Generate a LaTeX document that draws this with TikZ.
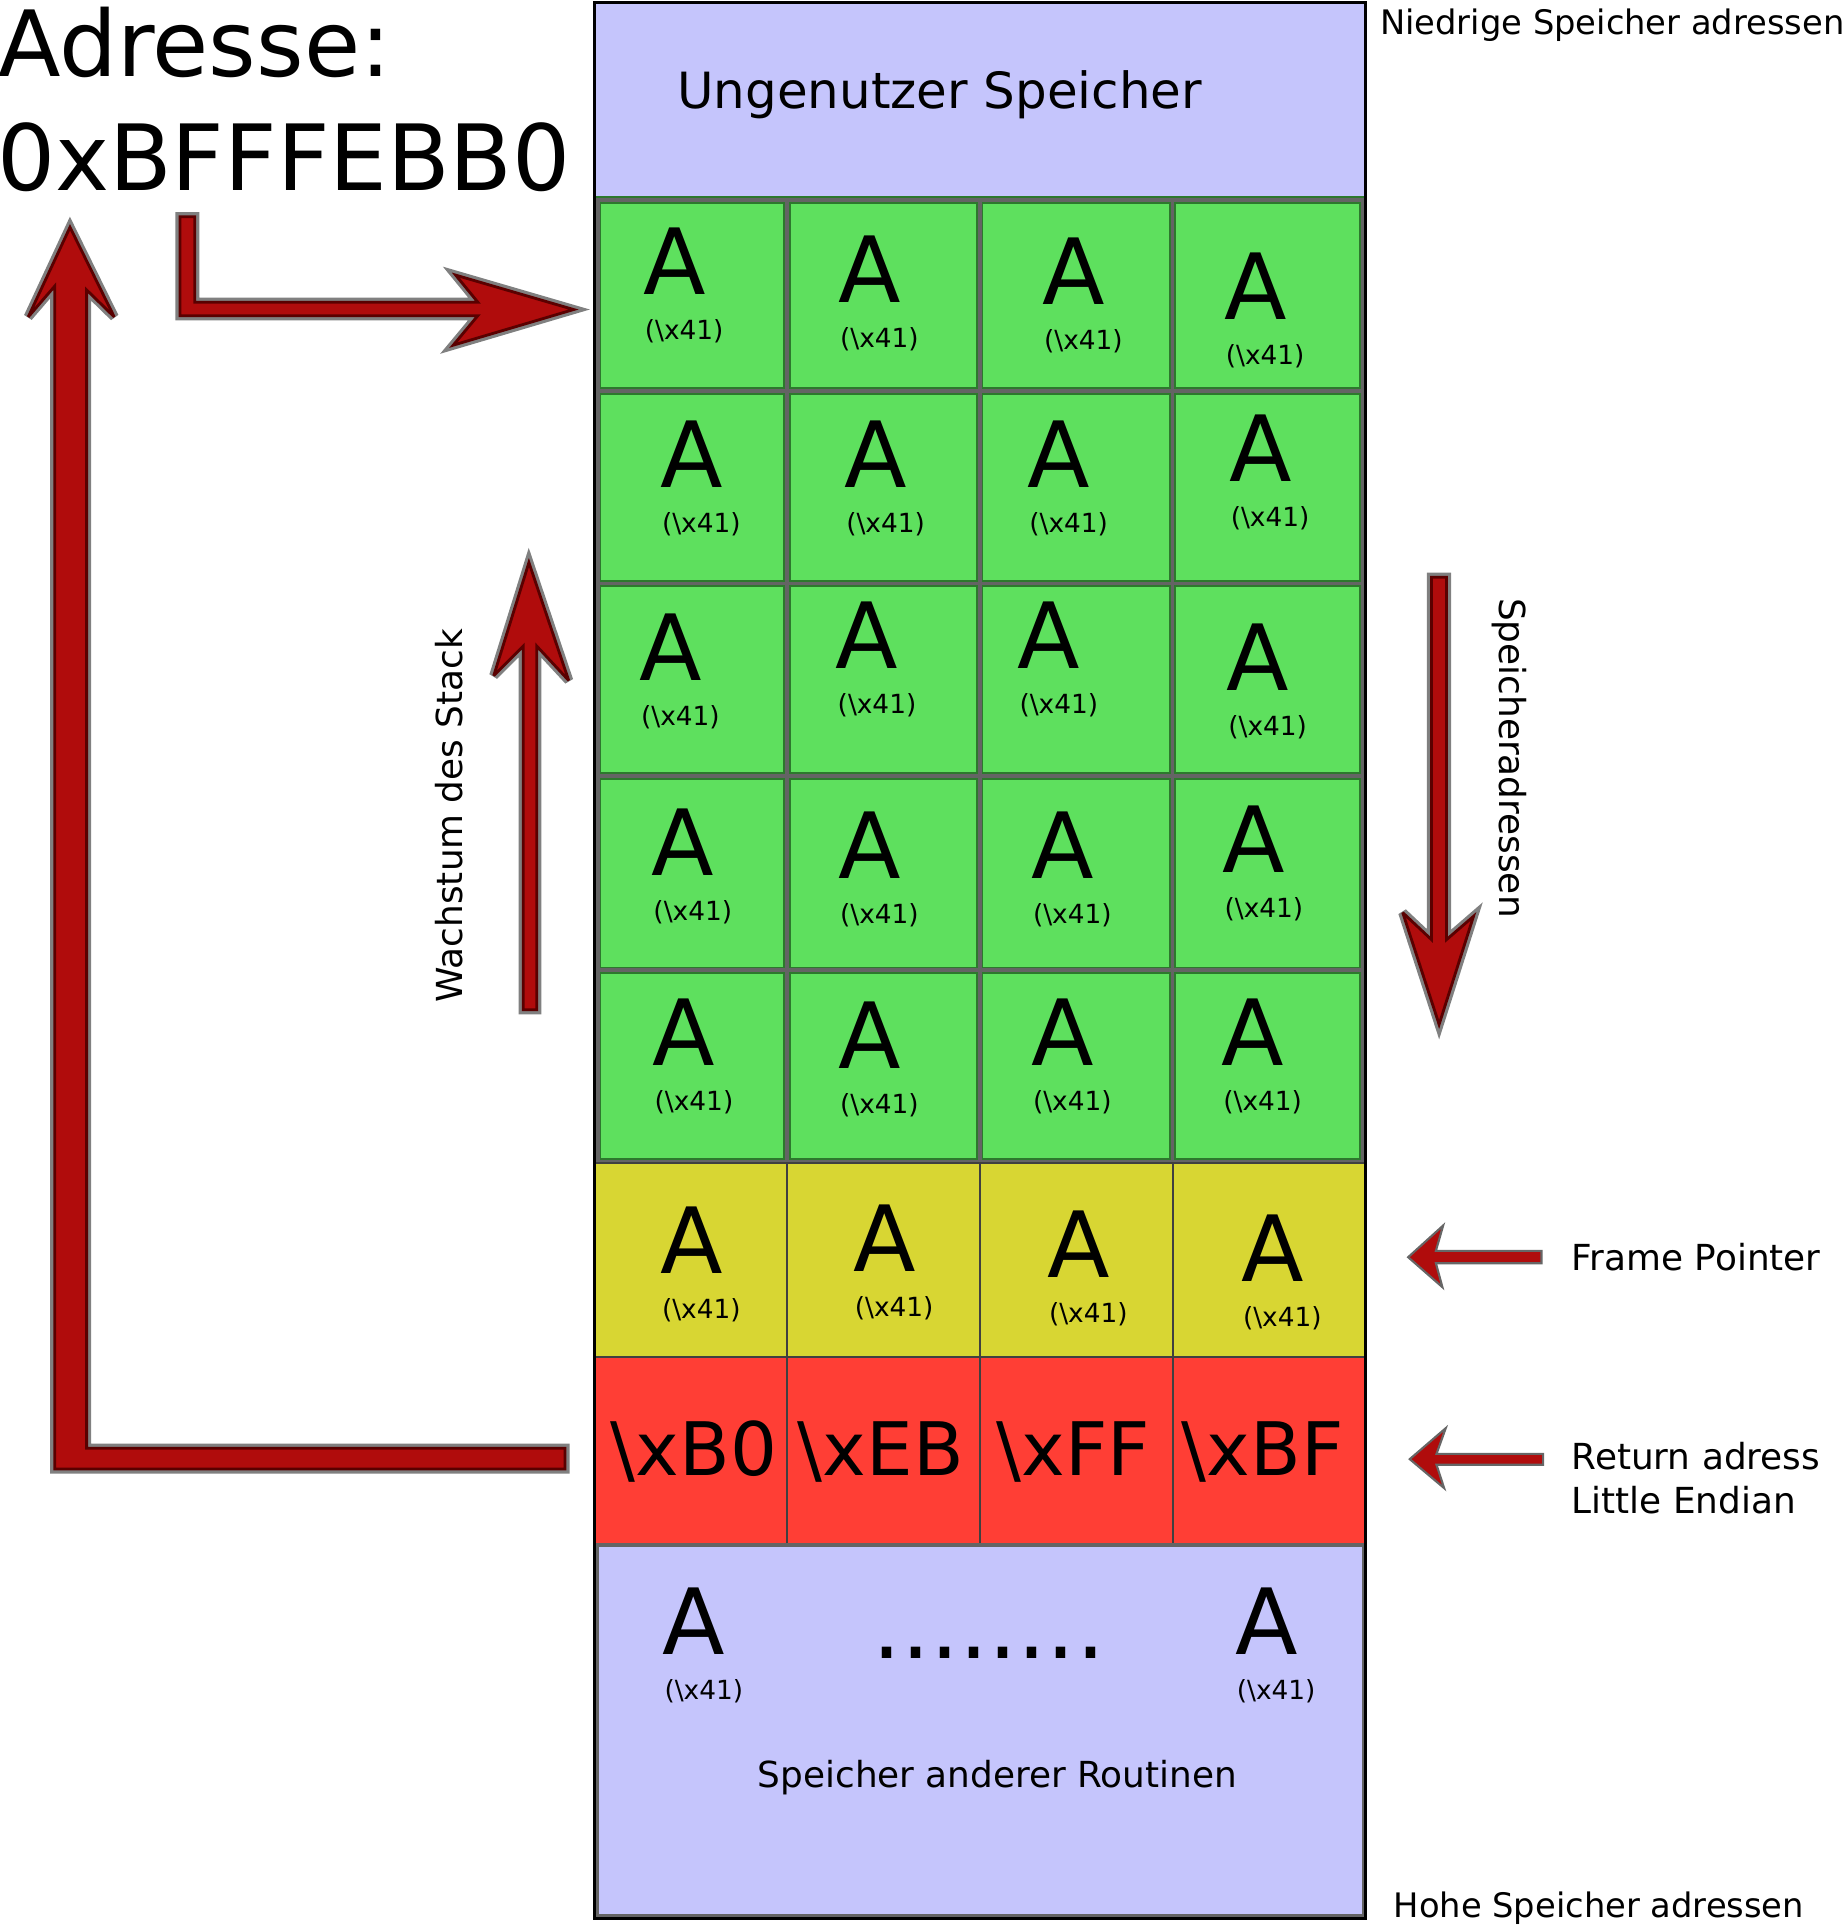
\documentclass[tikz,border=0pt]{standalone}
\usepackage{fontspec}
\setmainfont{DejaVu Sans}

\definecolor{freeblue}{RGB}{197,197,252}
\definecolor{bufgreen}{RGB}{94,224,94}
\definecolor{edgegreen}{RGB}{45,120,45}
\definecolor{ebpyellow}{RGB}{216,214,51}
\definecolor{retred}{RGB}{255,62,53}
\definecolor{arrowred}{RGB}{176,12,12}
\definecolor{arrowdark}{RGB}{90,0,0}
\definecolor{gridgray}{RGB}{100,100,100}

\tikzset{
  bigA/.style={inner sep=0, font=\fontsize{26}{31}\selectfont},
  hexlbl/.style={inner sep=0, font=\fontsize{7.5}{9}\selectfont},
  retbyte/.style={inner sep=0, font=\fontsize{21}{25}\selectfont},
  sidetext/.style={inner sep=0, font=\fontsize{10.2}{12.6}\selectfont},
  halo/.style={draw=gray, line width=2.6pt, miter limit=4},
  bigarrow/.style={fill=arrowred, draw=arrowdark, line width=0.8pt, miter limit=4},
  smallarrow/.style={fill=arrowred, draw=black!60, line width=0.6pt, miter limit=4},
  bytebox/.style={draw=black!75, line width=0.5pt},
}

\newcommand{\acell}[3]{%
  \node[bigA] (A#1) at (#2,#3) {A};
  \node[hexlbl] (X#1) at (#2+8,#3+57) {(\textbackslash x41)};}

\begin{document}
\begin{tikzpicture}[x=0.012283cm, y=-0.012283cm]
\useasboundingbox (0,0) rectangle (1501,1568);

% stack column
\fill[freeblue] (484,2) rectangle (1112,162);
\fill[bufgreen] (484,162) rectangle (1112,947);
\draw[edgegreen, line width=2.2pt] (486.5,163) rectangle (1109.5,946)
     (641,162) -- (641,947) (797.5,162) -- (797.5,947) (954.5,162) -- (954.5,947)
     (484,318.5) -- (1112,318.5) (484,475) -- (1112,475) (484,632) -- (1112,632) (484,790) -- (1112,790);
\draw[gridgray, line width=1.1pt] (486.5,163) rectangle (1109.5,946)
     (641,162) -- (641,947) (797.5,162) -- (797.5,947) (954.5,162) -- (954.5,947)
     (484,318.5) -- (1112,318.5) (484,475) -- (1112,475) (484,632) -- (1112,632) (484,790) -- (1112,790);

\draw[bytebox, fill=ebpyellow] (484,947) rectangle (641,1105);
\draw[bytebox, fill=ebpyellow] (641,947) rectangle (798,1105);
\draw[bytebox, fill=ebpyellow] (798,947) rectangle (955,1105);
\draw[bytebox, fill=ebpyellow] (955,947) rectangle (1112,1105);
\draw[bytebox, fill=retred] (484,1105) rectangle (641,1257);
\draw[bytebox, fill=retred] (641,1105) rectangle (798,1257);
\draw[bytebox, fill=retred] (798,1105) rectangle (955,1257);
\draw[bytebox, fill=retred] (955,1105) rectangle (1112,1257);

\draw[fill=freeblue, draw=gridgray, line width=1pt] (486,1258) rectangle (1110,1560);
\draw[black, line width=0.8pt] (484,2) rectangle (1112,1562);

\node[font=\fontsize{14.2}{17}\selectfont, anchor=base] (UNUSED) at (765,88) {Ungenutzer Speicher};

\acell{11}{549}{213} \acell{12}{708}{219} \acell{13}{874}{221} \acell{14}{1022}{233}
\acell{21}{563}{370} \acell{22}{713}{370} \acell{23}{862}{370} \acell{24}{1026}{365}
\acell{31}{546}{527} \acell{32}{706}{517} \acell{33}{854}{517} \acell{34}{1024}{535}
\acell{41}{556}{686} \acell{42}{708}{688} \acell{43}{865}{688} \acell{44}{1021}{683}
\acell{51}{557}{840} \acell{52}{708}{843} \acell{53}{865}{840} \acell{54}{1020}{840}
\acell{61}{563}{1010} \acell{62}{720}{1008} \acell{63}{878}{1013} \acell{64}{1036}{1016}

\node[retbyte] (R1) at (565,1182) {\textbackslash xB0};
\node[retbyte] (R2) at (717,1182) {\textbackslash xEB};
\node[retbyte] (R3) at (874,1182) {\textbackslash xFF};
\node[retbyte] (R4) at (1028,1182) {\textbackslash xBF};

\acell{71}{565}{1320} \acell{72}{1031}{1320}
\node[bigA, anchor=base] (DOTS) at (805,1350) {........};
\node[sidetext, anchor=base] (OTHER) at (812,1455) {Speicher anderer Routinen};

% labels round the column
\node[bigA, anchor=base west] (ADR1) at (-2,62) {Adresse:};
\node[bigA, anchor=base west] (ADR2) at (-3,155) {0xBFFFEBB0};
\node[inner sep=0, font=\fontsize{9.6}{11}\selectfont, anchor=base west] (LOW) at (1123,28) {Niedrige Speicher adressen};
\node[inner sep=0, font=\fontsize{9.6}{11}\selectfont, anchor=base west] (HIGH) at (1134,1561) {Hohe Speicher adressen};
\node[sidetext, rotate=90] (GROW) at (366,664) {Wachstum des Stack};
\node[sidetext, rotate=-90] (ADDR) at (1229,617) {Speicheradressen};
\node[sidetext, anchor=base west] (FP) at (1279,1034) {Frame Pointer};
\node[sidetext, anchor=west, align=left] (RET) at (1279,1203.5) {Return adress\\Little Endian};

% block arrows
\path[halo] (460,1179) -- (460,1196) -- (44.5,1196) -- (44.5,233) -- (23,258) -- (57,185) -- (93,258) -- (70.5,236) -- (70.5,1179) -- cycle;
\path[bigarrow] (460,1179) -- (460,1196) -- (44.5,1196) -- (44.5,233) -- (23,258) -- (57,185) -- (93,258) -- (70.5,236) -- (70.5,1179) -- cycle;
\path[halo] (146.5,176.5) -- (158.5,176.5) -- (158.5,246) -- (389,246) -- (371,224) -- (467,252) -- (369,281) -- (389,257) -- (146.5,257) -- cycle;
\path[bigarrow] (146.5,176.5) -- (158.5,176.5) -- (158.5,246) -- (389,246) -- (371,224) -- (467,252) -- (369,281) -- (389,257) -- (146.5,257) -- cycle;
\path[halo] (426,822) -- (426,526) -- (402,550) -- (430.6,458) -- (463,554) -- (437,526) -- (437,822) -- cycle;
\path[bigarrow] (426,822) -- (426,526) -- (402,550) -- (430.6,458) -- (463,554) -- (437,526) -- (437,822) -- cycle;
\path[halo] (1165.4,470) -- (1177.6,470) -- (1177.6,765) -- (1199.6,746) -- (1171.6,834) -- (1142,743) -- (1165.4,765) -- cycle;
\path[bigarrow] (1165.4,470) -- (1177.6,470) -- (1177.6,765) -- (1199.6,746) -- (1171.6,834) -- (1142,743) -- (1165.4,765) -- cycle;
\path[smallarrow] (1255,1018.3) -- (1169,1018.3) -- (1174.9,997.7) -- (1146.4,1023.5) -- (1174.3,1047.9) -- (1169,1028.4) -- (1255,1028.4) -- cycle;
\path[smallarrow] (1256.3,1183.6) -- (1169.5,1183.6) -- (1177,1162.7) -- (1147.7,1187.9) -- (1175.7,1211.5) -- (1169.5,1192.5) -- (1256.3,1192.5) -- cycle;

%\draw[red] (0,0) grid[step=100] (1501,1568);

\end{tikzpicture}
\end{document}
